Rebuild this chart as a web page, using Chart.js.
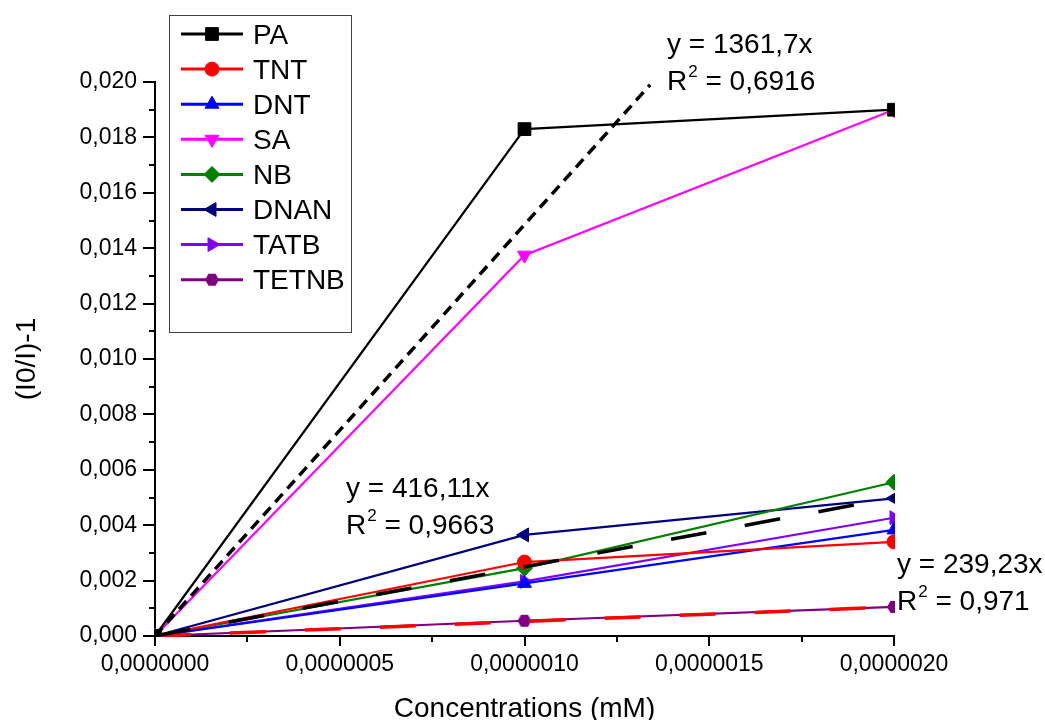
<!DOCTYPE html>
<html lang="en">
<head>
  <meta charset="UTF-8" />
  <title>Quenching response vs concentration</title>
  <script src="https://cdn.jsdelivr.net/npm/chart.js"></script>
  <style>
    body {
      margin: 0;
      background: #ffffff;
    }
    #quench {
      display: block;
    }
  </style>
</head>
<body>
  <canvas id="quench" width="1045" height="720"></canvas>

  <script>
    // concentrations (mM) and (I0/I)-1 per analyte
    const concentrations = [0, 0.000001, 0.000002];
    const pa    = [0, 0.01830, 0.01900];
    const tnt   = [0, 0.00267, 0.00340];
    const dnt   = [0, 0.00190, 0.00383];
    const sa    = [0, 0.01375, 0.01900];
    const nb    = [0, 0.00245, 0.00555];
    const dnan  = [0, 0.00365, 0.00497];
    const tatb  = [0, 0.00197, 0.00427];
    const tetnb = [0, 0.00055, 0.00105];

    // linear fits through the origin (end points of the drawn fit lines)
    const fitHighX = [0, 0.00000134];
    const fitHighY = [0, 0.0199];
    const fitMidX  = [0, 0.000002];
    const fitMidY  = [0, 0.0050];
    const fitLowX  = [0, 0.000002];
    const fitLowY  = [0, 0.00105];

    const fitLabels = [
      { eq: 'y = 1361,7x', r2: '0,6916' },
      { eq: 'y = 416,11x', r2: '0,9663' },
      { eq: 'y = 239,23x', r2: '0,971' }
    ];

    const FONT = '"Liberation Sans", Arial, sans-serif';
    Chart.defaults.font.family = FONT;
    Chart.defaults.color = '#000';

    function hexagonMarker(color, r) {
      const c = document.createElement('canvas');
      c.width = c.height = 2 * r + 2;
      const g = c.getContext('2d');
      g.fillStyle = color;
      g.beginPath();
      for (let i = 0; i < 6; i++) {
        const a = Math.PI / 3 * i;
        const px = r + 1 + r * Math.cos(a);
        const py = r + 1 + r * Math.sin(a);
        if (i) g.lineTo(px, py); else g.moveTo(px, py);
      }
      g.closePath();
      g.fill();
      return c;
    }

    const series = [
      { label: 'PA',    values: pa,    color: '#000000', style: 'rect',     rot: 0,   r: 9 },
      { label: 'TNT',   values: tnt,   color: '#ff0000', style: 'circle',   rot: 0,   r: 7 },
      { label: 'DNT',   values: dnt,   color: '#0000ff', style: 'triangle', rot: 0,   r: 8 },
      { label: 'SA',    values: sa,    color: '#ff00ff', style: 'triangle', rot: 180, r: 8 },
      { label: 'NB',    values: nb,    color: '#008000', style: 'rectRot',  rot: 0,   r: 8 },
      { label: 'DNAN',  values: dnan,  color: '#000080', style: 'triangle', rot: -90, r: 8 },
      { label: 'TATB',  values: tatb,  color: '#8000ff', style: 'triangle', rot: 90,  r: 8 },
      { label: 'TETNB', values: tetnb, color: '#800080', style: hexagonMarker('#800080', 7), rot: 0, r: 7 }
    ];

    const toPoints = (xs, ys) => xs.map((x, i) => ({ x: x, y: ys[i] }));

    const datasets = series.map(s => ({
      label: s.label,
      data: toPoints(concentrations, s.values),
      borderColor: s.color,
      backgroundColor: s.color,
      borderWidth: 2.2,
      pointStyle: s.style,
      pointRotation: s.rot,
      pointRadius: s.r,
      pointBorderWidth: 1,
      pointBackgroundColor: s.color,
      pointBorderColor: s.color,
      tension: 0,
      fill: false,
      clip: 1,
      order: 1
    }));

    const fitLine = (xs, ys, color, dash) => ({
      label: '',
      data: toPoints(xs, ys),
      borderColor: color,
      borderWidth: 3.5,
      borderDash: dash,
      pointRadius: 0,
      tension: 0,
      fill: false,
      clip: 1,
      order: 0
    });

    datasets.push(fitLine(fitHighX, fitHighY, '#000000', [11, 7]));
    datasets.push(fitLine(fitMidX, fitMidY, '#000000', [36, 39]));
    datasets.push(fitLine(fitLowX, fitLowY, '#ff0000', [36, 39]));

    // major + minor tick marks drawn outward from both axes
    const axisTicks = {
      id: 'axisTicks',
      afterDraw(chart) {
        const { ctx, scales: { x, y } } = chart;
        ctx.save();
        ctx.strokeStyle = '#000';
        ctx.lineWidth = 2;
        ctx.beginPath();
        for (let i = 0; i <= 20; i++) {
          const py = Math.round(y.getPixelForValue(i * 0.001));
          const len = i % 2 ? 6 : 12;
          ctx.moveTo(x.left - len, py);
          ctx.lineTo(x.left, py);
        }
        for (let i = 0; i <= 8; i++) {
          const px = Math.round(x.getPixelForValue(i * 0.00000025));
          const len = i % 2 ? 6 : 10;
          ctx.moveTo(px, y.bottom);
          ctx.lineTo(px, y.bottom + len);
        }
        ctx.stroke();
        ctx.restore();
      }
    };

    // boxed legend with line + marker samples
    const boxLegend = {
      id: 'boxLegend',
      afterDraw(chart) {
        const { ctx } = chart;
        const bx = 169, by = 15, bw = 182, bh = 317;
        ctx.save();
        ctx.strokeStyle = '#404040';
        ctx.lineWidth = 1;
        ctx.strokeRect(bx + 0.5, by + 0.5, bw, bh);
        ctx.font = '28px ' + FONT;
        ctx.textBaseline = 'middle';
        ctx.fillStyle = '#000';
        series.forEach((s, i) => {
          const ly = 34 + i * 35.1;
          ctx.strokeStyle = s.color;
          ctx.lineWidth = 3;
          ctx.beginPath();
          ctx.moveTo(181, ly);
          ctx.lineTo(243, ly);
          ctx.stroke();
          ctx.fillStyle = s.color;
          ctx.strokeStyle = s.color;
          ctx.lineWidth = 1;
          Chart.helpers.drawPoint(ctx, {
            pointStyle: s.style, rotation: s.rot, radius: s.r, borderWidth: 1
          }, 212, ly);
          ctx.fillStyle = '#000';
          ctx.fillText(s.label, 253, ly + 2);
        });
        ctx.restore();
      }
    };

    // fit equations with superscript R²
    const fitText = {
      id: 'fitText',
      afterDraw(chart) {
        const { ctx } = chart;
        const spots = [[667, 53], [346, 497], [897, 573]];
        ctx.save();
        ctx.fillStyle = '#000';
        ctx.textBaseline = 'alphabetic';
        fitLabels.forEach((f, i) => {
          const [tx, ty] = spots[i];
          ctx.font = '28px ' + FONT;
          ctx.fillText(f.eq, tx, ty);
          const ry = ty + 37;
          ctx.fillText('R', tx, ry);
          const wR = ctx.measureText('R').width;
          ctx.font = '17px ' + FONT;
          ctx.fillText('2', tx + wR + 1, ry - 13);
          const w2 = ctx.measureText('2').width;
          ctx.font = '28px ' + FONT;
          ctx.fillText(' = ' + f.r2, tx + wR + w2 + 1, ry);
        });
        ctx.restore();
      }
    };

    new Chart(document.getElementById('quench'), {
      type: 'line',
      data: { datasets: datasets },
      options: {
        responsive: false,
        animation: false,
        layout: { padding: { top: 82, right: 151, left: 0, bottom: 0 } },
        plugins: {
          legend: { display: false },
          tooltip: { enabled: false }
        },
        scales: {
          x: {
            type: 'linear',
            min: 0,
            max: 0.000002,
            afterFit: s => { s.height = 84; },
            grid: { display: false, drawTicks: true, tickLength: 10 },
            border: { display: true, color: '#000', width: 2 },
            ticks: {
              stepSize: 0.0000005,
              padding: 5,
              maxRotation: 0,
              font: { size: 23 },
              callback: v => v.toFixed(7).replace('.', ',')
            },
            title: {
              display: true,
              text: 'Concentrations (mM)',
              font: { size: 28, lineHeight: 0.8 },
              padding: 0
            }
          },
          y: {
            type: 'linear',
            min: 0,
            max: 0.020,
            afterFit: s => { s.width = 155; },
            grid: { display: false, drawTicks: true, tickLength: 12 },
            border: { display: true, color: '#000', width: 2 },
            ticks: {
              stepSize: 0.002,
              padding: 6,
              font: { size: 23 },
              callback: v => v.toFixed(3).replace('.', ',')
            },
            title: {
              display: true,
              text: '(I0/I)-1',
              font: { size: 28, lineHeight: 0.8 },
              padding: { top: 16, bottom: 0 }
            }
          }
        }
      },
      plugins: [axisTicks, boxLegend, fitText]
    });
  </script>
</body>
</html>
